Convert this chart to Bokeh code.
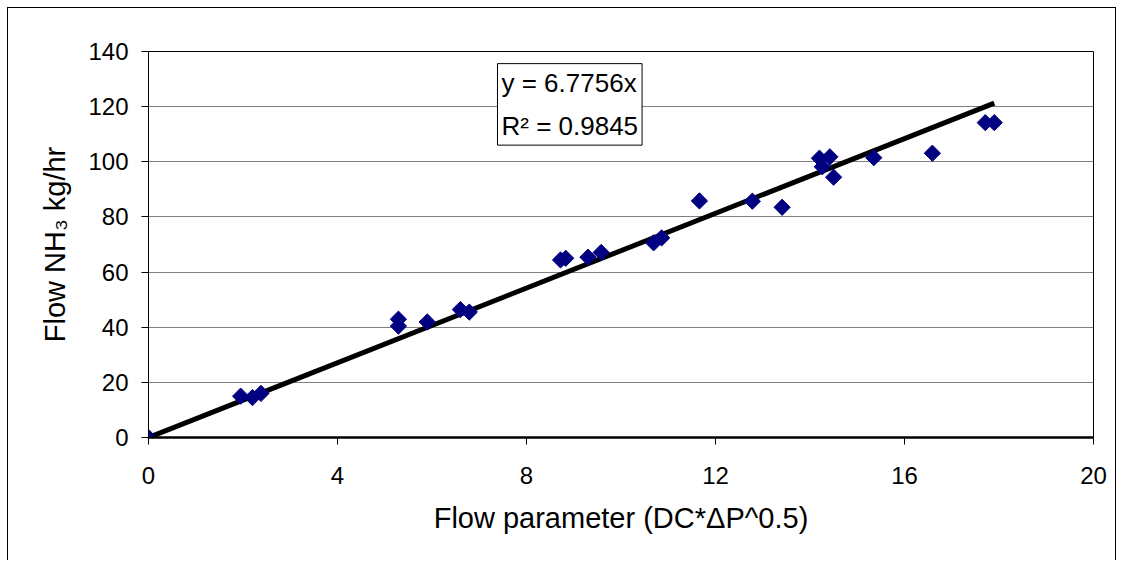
from bokeh.plotting import figure
from bokeh.models import FixedTicker, Label, ColumnDataSource
from bokeh.embed import file_html
from bokeh.resources import INLINE
import math

# ---- data ----
flow_param = [0, 1.95, 2.2, 2.38, 5.29, 5.29, 5.9, 6.6, 6.79, 8.72, 8.83, 9.30, 9.58,
              10.69, 10.86, 11.66, 12.78, 13.41, 14.20, 14.42, 14.26, 14.50, 15.35,
              16.59, 17.71, 17.90]
flow_nh3 = [0, 15.0, 14.5, 16.0, 42.9, 40.4, 41.9, 46.4, 45.5, 64.4, 65.0, 65.4, 67.1,
            70.6, 72.4, 85.8, 85.7, 83.5, 101.3, 101.8, 98.2, 94.4, 101.5,
            103.1, 114.2, 114.2]
slope = 6.7756
r_squared = 0.9845
x_ticks = [0, 4, 8, 12, 16, 20]
y_ticks = [0, 20, 40, 60, 80, 100, 120, 140]

FONT = "Liberation Sans"

p = figure(width=1109, height=553, output_backend="svg", toolbar_location=None,
           x_range=(0, 20), y_range=(0, 140),
           min_border_left=140, min_border_right=24, min_border_top=43, min_border_bottom=124)
p.styles = {"margin-left": "7px", "margin-top": "7px",
            "border-left": "1px solid black", "border-top": "1px solid black",
            "border-right": "1px solid black"}
p.outline_line_color = "black"
p.outline_line_width = 1
p.background_fill_color = "white"
p.border_fill_color = "white"

# grid
p.xgrid.visible = False
p.ygrid.grid_line_color = "#808080"
p.ygrid.grid_line_width = 1
p.ygrid.ticker = FixedTicker(ticks=y_ticks)

# axes
p.xaxis.ticker = FixedTicker(ticks=x_ticks)
p.yaxis.ticker = FixedTicker(ticks=y_ticks)
for ax in (p.xaxis[0], p.yaxis[0]):
    ax.major_label_text_font = FONT
    ax.major_label_text_font_size = "24px"
    ax.major_label_text_color = "black"
    ax.axis_label_text_font = FONT
    ax.axis_label_text_font_size = "29px"
    ax.axis_label_text_font_style = "normal"
    ax.axis_label_text_color = "black"
    ax.minor_tick_line_color = None
    ax.major_tick_in = 0
    ax.major_tick_out = 7
    ax.major_tick_line_color = "black"
    ax.axis_line_color = "black"

p.xaxis.axis_line_width = 2.5
p.xaxis.major_label_standoff = 22
p.xaxis.axis_label = "Flow parameter (DC*ΔP^0.5)"
p.xaxis.axis_label_standoff = 15

p.yaxis.axis_line_width = 1
p.yaxis.major_label_standoff = 13
p.yaxis.axis_label = "Flow NH\u2083 kg/hr"
p.yaxis.axis_label_standoff = 14

# trendline y = slope * x through origin
x_max = max(flow_param)
p.line([0, x_max], [0, slope * x_max], line_color="black", line_width=5)

# data points (diamonds)
src = ColumnDataSource(dict(x=flow_param, y=flow_nh3))
p.scatter("x", "y", source=src, marker="square", size=11.5, angle=math.pi / 4,
          fill_color="#000080", line_color="#000080", line_width=1)

# equation box
eq = Label(x=7.386, y=135.6, x_units="data", y_units="data",
           text=f"y = {slope}x\nR\u00b2 = {r_squared}",
           text_font=FONT, text_font_size="26px", text_color="black",
           text_align="left", text_baseline="top", text_line_height=1.45,
           border_line_color="black", border_line_width=1,
           background_fill_color="white", padding=4)
p.add_layout(eq)

open("out.html", "w").write(file_html(p, INLINE))
